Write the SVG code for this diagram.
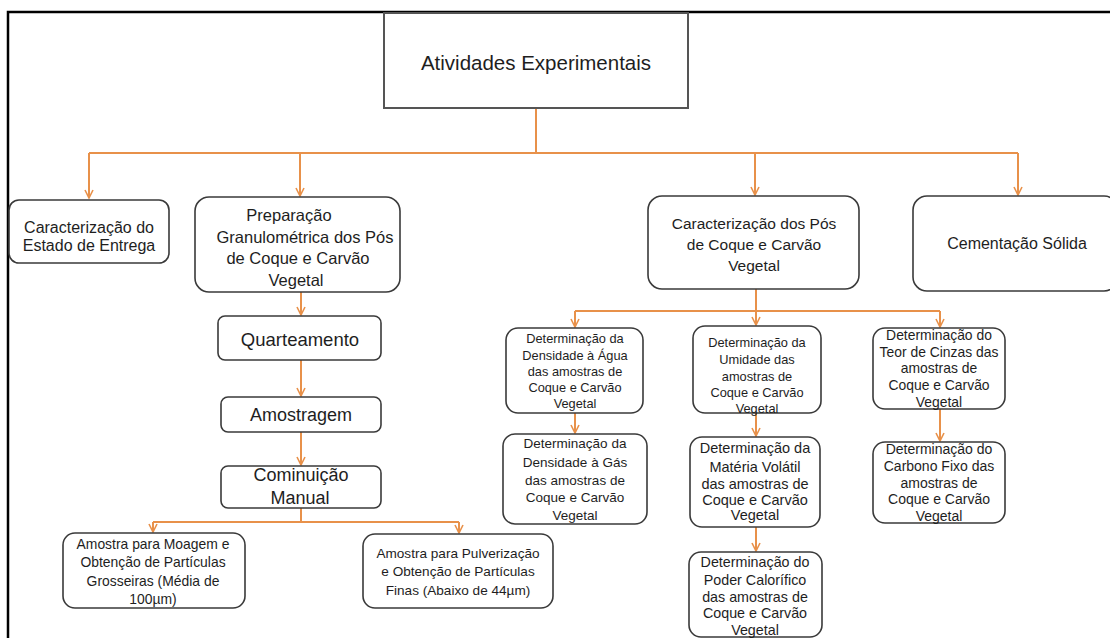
<svg xmlns="http://www.w3.org/2000/svg" width="1110" height="638" viewBox="0 0 1110 638">
<defs>
<style>
.frame{fill:#fff;stroke:#000;stroke-width:2.5}
.box{fill:#fff;stroke:#3a3a3a;stroke-width:1.6}
.top{fill:#fff;stroke:#555;stroke-width:2}
.c{fill:none;stroke:#E8914A;stroke-width:2}
text{font-family:"Liberation Sans",Arial,sans-serif;fill:#1e1e1e;text-anchor:middle;dominant-baseline:central}
.f205{font-size:20.5px}
.f16{font-size:16px}
.f165{font-size:16.5px}
.f155{font-size:15.5px}
.f18{font-size:18px}
.f185{font-size:18.5px}
.f139{font-size:13.9px}
.f136{font-size:13.6px}
.f128{font-size:12.8px}
.f135{font-size:13.5px}
.f145{font-size:14.5px}
.f143{font-size:14.3px}
.f14{font-size:14px}
</style>
<marker id="ah" viewBox="0 0 10 10" refX="9" refY="5" markerWidth="10" markerHeight="10" markerUnits="userSpaceOnUse" orient="auto">
<path d="M1,1 L9,5 L1,9" fill="none" stroke="#E8914A" stroke-width="1.6"/>
</marker>
</defs>
<rect width="1110" height="638" fill="#fff"/>
<rect class="frame" x="8" y="12" width="1130" height="650"/>

<g id="connectors">
<path class="c" d="M536,108 V153 M89,153 H1018"/>
<path class="c" d="M89,153 V198" marker-end="url(#ah)"/>
<path class="c" d="M300,153 V196" marker-end="url(#ah)"/>
<path class="c" d="M755,153 V195" marker-end="url(#ah)"/>
<path class="c" d="M1018,153 V195" marker-end="url(#ah)"/>
<path class="c" d="M301,292 V315" marker-end="url(#ah)"/>
<path class="c" d="M301,360 V396" marker-end="url(#ah)"/>
<path class="c" d="M301,432 V465" marker-end="url(#ah)"/>
<path class="c" d="M301,508 V522 M153,522 H459"/>
<path class="c" d="M153,522 V532" marker-end="url(#ah)"/>
<path class="c" d="M459,522 V533" marker-end="url(#ah)"/>
<path class="c" d="M756,289 V311 M575,311 H940"/>
<path class="c" d="M575,311 V327" marker-end="url(#ah)"/>
<path class="c" d="M756,311 V325" marker-end="url(#ah)"/>
<path class="c" d="M940,311 V327" marker-end="url(#ah)"/>
<path class="c" d="M575,413 V433" marker-end="url(#ah)"/>
<path class="c" d="M756,413 V436" marker-end="url(#ah)"/>
<path class="c" d="M756,527 V551" marker-end="url(#ah)"/>
<path class="c" d="M940,409 V441" marker-end="url(#ah)"/>
</g>

<g id="n-atividades">
<rect class="top" x="384" y="13" width="304" height="95"/>
<text class="f205" x="536" y="62">Atividades Experimentais</text>
</g>

<g id="n-entrega">
<rect class="box" x="9" y="200" width="160" height="63" rx="10"/>
<text class="f16" x="89" y="227">Caracterização do</text>
<text class="f16" x="89" y="245">Estado de Entrega</text>
</g>

<g id="n-preparacao">
<rect class="box" x="195" y="197" width="205" height="95" rx="14"/>
<text class="f165" x="289" y="215">Preparação</text>
<text class="f165" x="305" y="237">Granulométrica dos Pós</text>
<text class="f165" x="298" y="258">de Coque e Carvão</text>
<text class="f165" x="296" y="280">Vegetal</text>
</g>

<g id="n-caracterizacao">
<rect class="box" x="648" y="196" width="211" height="93" rx="14"/>
<text class="f155" x="754" y="223">Caracterização dos Pós</text>
<text class="f155" x="754" y="244">de Coque e Carvão</text>
<text class="f155" x="754" y="265">Vegetal</text>
</g>

<g id="n-cementacao">
<rect class="box" x="913" y="196" width="205" height="95" rx="14"/>
<text class="f16" x="1017" y="243">Cementação Sólida</text>
</g>

<g id="n-quarteamento">
<rect class="box" x="218" y="316" width="163" height="44" rx="7"/>
<text class="f185" x="300" y="339">Quarteamento</text>
</g>

<g id="n-amostragem">
<rect class="box" x="221" y="397" width="160" height="35" rx="7"/>
<text class="f18" x="301" y="415">Amostragem</text>
</g>

<g id="n-cominuicao">
<rect class="box" x="221" y="466" width="160" height="42" rx="7"/>
<text class="f18" x="301" y="475">Cominuição</text>
<text class="f18" x="300" y="498">Manual</text>
</g>

<g id="n-moagem">
<rect class="box" x="63" y="533" width="182" height="75" rx="12"/>
<text class="f139" x="153" y="544">Amostra para Moagem e</text>
<text class="f139" x="153" y="562">Obtenção de Partículas</text>
<text class="f139" x="153" y="581">Grosseiras (Média de</text>
<text class="f139" x="153" y="599">100µm)</text>
</g>

<g id="n-pulverizacao">
<rect class="box" x="363" y="534" width="190" height="74" rx="12"/>
<text class="f136" x="458" y="553">Amostra para Pulverização</text>
<text class="f136" x="458" y="571">e Obtenção de Partículas</text>
<text class="f136" x="458" y="590">Finas (Abaixo de 44µm)</text>
</g>

<g id="n-agua">
<rect class="box" x="506" y="328" width="137" height="85" rx="12"/>
<text class="f128" x="575" y="338">Determinação da</text>
<text class="f128" x="575" y="355">Densidade à Água</text>
<text class="f128" x="575" y="371">das amostras de</text>
<text class="f128" x="575" y="387">Coque e Carvão</text>
<text class="f128" x="575" y="403">Vegetal</text>
</g>

<g id="n-gas">
<rect class="box" x="503" y="434" width="144" height="90" rx="12"/>
<text class="f135" x="575" y="443">Determinação da</text>
<text class="f135" x="575" y="462">Densidade à Gás</text>
<text class="f135" x="575" y="480">das amostras de</text>
<text class="f135" x="575" y="497">Coque e Carvão</text>
<text class="f135" x="575" y="515">Vegetal</text>
</g>

<g id="n-umidade">
<rect class="box" x="693" y="326" width="128" height="87" rx="12"/>
<text class="f128" x="757" y="342">Determinação da</text>
<text class="f128" x="757" y="359">Umidade das</text>
<text class="f128" x="757" y="376">amostras de</text>
<text class="f128" x="757" y="392">Coque e Carvão</text>
<text class="f128" x="757" y="408">Vegetal</text>
</g>

<g id="n-volatil">
<rect class="box" x="690" y="437" width="130" height="90" rx="12"/>
<text class="f145" x="755" y="448">Determinação da</text>
<text class="f145" x="755" y="467">Matéria Volátil</text>
<text class="f145" x="755" y="484">das amostras de</text>
<text class="f145" x="755" y="500">Coque e Carvão</text>
<text class="f145" x="755" y="515">Vegetal</text>
</g>

<g id="n-poder">
<rect class="box" x="689" y="552" width="133" height="85" rx="12"/>
<text class="f143" x="755" y="562">Determinação do</text>
<text class="f143" x="755" y="580">Poder Calorífico</text>
<text class="f143" x="755" y="597">das amostras de</text>
<text class="f143" x="755" y="613">Coque e Carvão</text>
<text class="f143" x="755" y="630">Vegetal</text>
</g>

<g id="n-cinzas">
<rect class="box" x="873" y="328" width="132" height="81" rx="12"/>
<text class="f139" x="939" y="335">Determinação do</text>
<text class="f139" x="939" y="352">Teor de Cinzas das</text>
<text class="f139" x="939" y="368">amostras de</text>
<text class="f139" x="939" y="385">Coque e Carvão</text>
<text class="f139" x="939" y="402">Vegetal</text>
</g>

<g id="n-carbono">
<rect class="box" x="873" y="442" width="132" height="81" rx="12"/>
<text class="f14" x="939" y="449">Determinação do</text>
<text class="f14" x="939" y="466">Carbono Fixo das</text>
<text class="f14" x="939" y="483">amostras de</text>
<text class="f14" x="939" y="499">Coque e Carvão</text>
<text class="f14" x="939" y="516">Vegetal</text>
</g>
</svg>
